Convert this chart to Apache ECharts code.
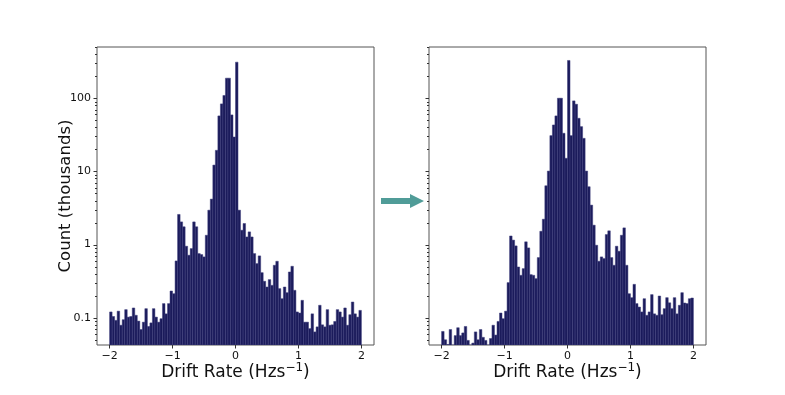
<!DOCTYPE html>
<html>
<head>
<meta charset="utf-8">
<script src="https://cdn.jsdelivr.net/npm/echarts@6/dist/echarts.min.js"></script>
<style>
html, body { margin: 0; padding: 0; background: #fff; }
#chart { width: 785px; height: 395px; }
</style>
</head>
<body>
<div id="chart"></div>
<script>
// histogram bins: 100 bins of 0.04 Hz/s from -2 to 2
var binStart = -2;
var binWidth = 0.04;

// counts in thousands
var beforeCounts = [
  0.120, 0.104, 0.092, 0.123, 0.079, 0.094, 0.129, 0.102, 0.104, 0.136,
  0.108, 0.090, 0.069, 0.087, 0.133, 0.076, 0.085, 0.133, 0.102, 0.087,
  0.097, 0.156, 0.113, 0.156, 0.232, 0.213, 0.597, 2.58, 2.04, 1.75,
  0.949, 0.715, 0.881, 2.04, 1.75, 0.753, 0.730, 0.678, 1.34, 2.95,
  4.18, 12.2, 19.4, 57.3, 83.6, 109, 188, 188, 59.1, 29.5,
  311, 2.95, 1.57, 1.94, 1.27, 1.49, 1.27, 0.753, 0.549, 0.700,
  0.413, 0.315, 0.263, 0.332, 0.277, 0.521, 0.591, 0.250, 0.182, 0.263,
  0.220, 0.422, 0.505, 0.237, 0.120, 0.116, 0.173, 0.087, 0.087, 0.071,
  0.113, 0.064, 0.075, 0.148, 0.080, 0.075, 0.129, 0.079, 0.080, 0.089,
  0.129, 0.120, 0.102, 0.136, 0.079, 0.110, 0.164, 0.113, 0.102, 0.126
];
var afterCounts = [
  0.065, 0.050, 0.043, 0.069, 0.040, 0.057, 0.073, 0.057, 0.062, 0.076,
  0.049, 0.040, 0.045, 0.064, 0.050, 0.069, 0.054, 0.049, 0.040, 0.052,
  0.079, 0.058, 0.089, 0.116, 0.097, 0.123, 0.302, 1.31, 1.15, 0.959,
  0.494, 0.380, 0.469, 1.09, 0.900, 0.388, 0.380, 0.342, 0.664, 1.52,
  2.22, 6.36, 10.1, 30.8, 43.1, 57.3, 100, 100, 33.2, 15.1,
  328, 30.8, 91.9, 82.7, 53.2, 40.9, 28.3, 10.1, 6.17, 3.46,
  1.84, 0.979, 0.591, 0.678, 0.643, 1.37, 1.54, 0.664, 0.521, 0.949,
  0.810, 1.34, 1.69, 0.521, 0.213, 0.188, 0.286, 0.156, 0.140, 0.120,
  0.182, 0.108, 0.120, 0.207, 0.113, 0.108, 0.198, 0.110, 0.133, 0.188,
  0.160, 0.133, 0.188, 0.113, 0.148, 0.220, 0.159, 0.156, 0.182, 0.186
];

var xTicks = [-2, -1, 0, 1, 2];
var yMajorTicks = [0.1, 1, 10, 100];
var yMinorTicks = [
  0.05, 0.06, 0.07, 0.08, 0.09,
  0.2, 0.3, 0.4, 0.5, 0.6, 0.7, 0.8, 0.9,
  2, 3, 4, 5, 6, 7, 8, 9,
  20, 30, 40, 50, 60, 70, 80, 90,
  200, 300, 400, 500
];

var xMin = -2.2, xMax = 2.2;
var yMin = 0.0424, yMax = 501;

var barFill = '#1b1b5b';
var barEdge = '#3e3e7c';
var axisColor = '#333';
var font = 'DejaVu Sans';

function toBins(counts) {
  var out = [];
  for (var i = 0; i < counts.length; i++) {
    var x0 = binStart + i * binWidth;
    out.push([x0, x0 + binWidth, counts[i]]);
  }
  return out;
}

function renderBar(params, api) {
  var top = api.coord([api.value(0), api.value(2)]);
  var bottom = api.coord([api.value(1), yMin]);
  return {
    type: 'rect',
    shape: { x: top[0], y: top[1], width: bottom[0] - top[0], height: bottom[1] - top[1] },
    style: { fill: barFill, stroke: barEdge, lineWidth: 0.5 }
  };
}

function tickRenderer(len) {
  return function (params, api) {
    var p = api.coord([xMin, api.value(1)]);
    var y = Math.round(p[1]) + 0.5;
    return {
      type: 'line',
      shape: { x1: p[0] - len, y1: y, x2: p[0], y2: y },
      style: { stroke: axisColor, lineWidth: 1 }
    };
  };
}

function tickData(values) {
  return values.map(function (v) { return [xMin, v]; });
}

function xAxisFor(gridIndex) {
  return {
    type: 'value', gridIndex: gridIndex, min: xMin, max: xMax,
    name: '{a|Drift Rate (Hzs}{s|\u22121}{a|)}',
    nameLocation: 'middle', nameGap: 17, nameMoveOverlap: false,
    nameTextStyle: {
      fontFamily: font, fontSize: 17, color: '#111',
      rich: {
        a: { fontFamily: font, fontSize: 17, lineHeight: 22, color: '#111' },
        s: { fontFamily: font, fontSize: 12, lineHeight: 22, verticalAlign: 'top', color: '#111' }
      }
    },
    splitLine: { show: false },
    axisLine: { show: false },
    axisTick: { show: true, customValues: xTicks, length: 3.5, lineStyle: { color: axisColor } },
    axisLabel: {
      customValues: xTicks, margin: 6, fontFamily: font, fontSize: 11, color: '#111',
      formatter: function (v) { return v < 0 ? '\u2212' + Math.abs(v) : String(v); }
    }
  };
}

function yAxisFor(gridIndex, showLabels) {
  return {
    type: 'log', gridIndex: gridIndex, logBase: 10, min: yMin, max: yMax,
    name: showLabels ? 'Count (thousands)' : '',
    nameLocation: 'middle', nameGap: 23, nameMoveOverlap: false,
    nameTextStyle: { fontFamily: font, fontSize: 16.5, color: '#111' },
    splitLine: { show: false },
    axisLine: { show: false },
    axisTick: { show: false },
    axisLabel: {
      show: showLabels, margin: 6, fontFamily: font, fontSize: 11, color: '#111',
      showMinLabel: false, showMaxLabel: false,
      formatter: function (v) {
        return yMajorTicks.indexOf(+v.toPrecision(6)) >= 0 ? String(+v.toPrecision(6)) : '';
      }
    }
  };
}

var series = [];
[beforeCounts, afterCounts].forEach(function (counts, k) {
  series.push({
    type: 'custom', xAxisIndex: k, yAxisIndex: k, clip: true,
    renderItem: renderBar, encode: { x: [0, 1], y: 2 },
    data: toBins(counts), silent: true, z: 2
  });
  series.push({
    type: 'custom', xAxisIndex: k, yAxisIndex: k,
    renderItem: tickRenderer(3.5), encode: { x: 0, y: 1 },
    data: tickData(yMajorTicks), silent: true, z: 3
  });
  series.push({
    type: 'custom', xAxisIndex: k, yAxisIndex: k,
    renderItem: tickRenderer(2), encode: { x: 0, y: 1 },
    data: tickData(yMinorTicks), silent: true, z: 3
  });
});

var chart = echarts.init(document.getElementById('chart'));
chart.setOption({
  animation: false,
  backgroundColor: '#fff',
  grid: [
    { left: 97, right: 411, top: 47, bottom: 50, show: true, borderColor: '#555', borderWidth: 1 },
    { left: 429, right: 79, top: 47, bottom: 50, show: true, borderColor: '#555', borderWidth: 1 }
  ],
  xAxis: [xAxisFor(0), xAxisFor(1)],
  yAxis: [yAxisFor(0, true), yAxisFor(1, false)],
  series: series,
  graphic: [{
    type: 'polygon',
    shape: { points: [[381, 198], [410, 198], [410, 194], [424, 201], [410, 208], [410, 204], [381, 204]] },
    style: { fill: '#509c98' }
  }]
});
</script>
</body>
</html>
